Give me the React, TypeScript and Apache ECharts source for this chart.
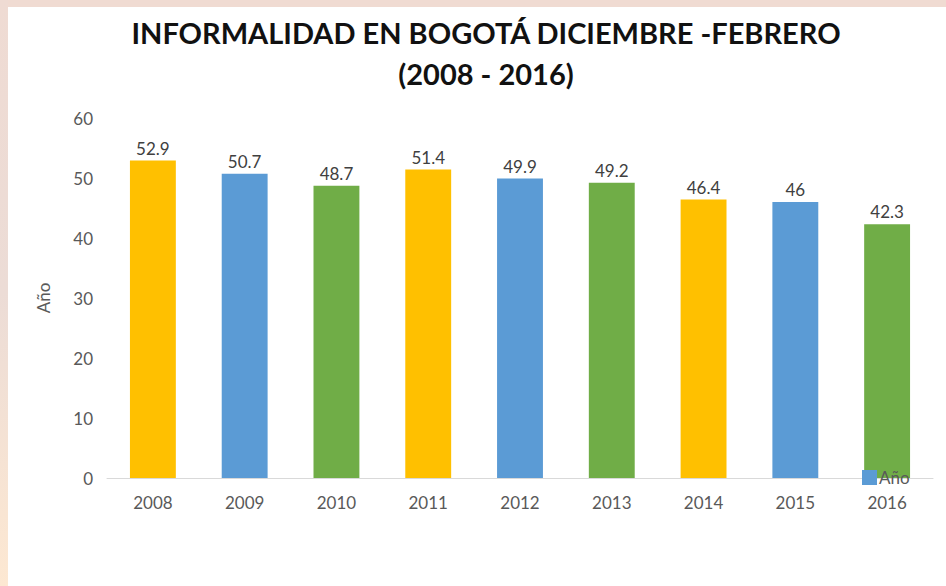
import React, { useEffect, useRef } from "react";
import * as echarts from "echarts";

const categories = ["2008", "2009", "2010", "2011", "2012", "2013", "2014", "2015", "2016"];
const values = [52.9, 50.7, 48.7, 51.4, 49.9, 49.2, 46.4, 46, 42.3];
const barColors = ["#FFC000", "#5B9BD5", "#70AD47", "#FFC000", "#5B9BD5", "#70AD47", "#FFC000", "#5B9BD5", "#70AD47"];
const titleLines = ["INFORMALIDAD EN BOGOTÁ DICIEMBRE -FEBRERO", "(2008 - 2016)"];
const seriesName = "Año";

export default function App() {
  const ref = useRef<HTMLDivElement>(null);
  useEffect(() => {
    document.body.style.margin = "0";
    const chart = echarts.init(ref.current!, null, { renderer: "svg" });
    chart.setOption({
      animation: false,
      backgroundColor: "#ffffff",
      textStyle: { fontFamily: "Lato" },
      graphic: [
        {
          type: "rect",
          shape: { x: 0, y: 0, width: 946, height: 7 },
          style: { fill: "#f0dbd2" },
          z: -1,
        },
        {
          type: "rect",
          shape: { x: 0, y: 0, width: 8, height: 586 },
          style: {
            fill: new echarts.graphic.LinearGradient(0, 0, 0, 1, [
              { offset: 0, color: "#efdbd3" },
              { offset: 0.5, color: "#ecdcd6" },
              { offset: 1, color: "#fde8d2" },
            ]),
          },
          z: -1,
        },
      ],
      title: {
        text: titleLines.join("\n"),
        left: 481,
        textAlign: "center",
        top: 7,
        textStyle: {
          fontFamily: "Lato",
          fontWeight: "bold",
          fontSize: 29,
          lineHeight: 41,
          color: "#111111",
        },
      },
      legend: {
        left: 857,
        top: 464,
        itemWidth: 15,
        itemHeight: 15,
        itemGap: 4,
        icon: "rect",
        data: [{ name: seriesName, itemStyle: { color: "#5B9BD5" } }],
        textStyle: { color: "#595959", fontSize: 17, fontFamily: "Lato", padding: [0, 0, 0, -3] },
      },
      grid: { left: 107, right: 13, top: 118, bottom: 108, containLabel: false },
      xAxis: {
        type: "category",
        data: categories,
        axisLine: { lineStyle: { color: "#d9d9d9", width: 1 } },
        axisTick: { show: false },
        axisLabel: { color: "#595959", fontSize: 17, margin: 16 },
      },
      yAxis: {
        type: "value",
        min: 0,
        max: 60,
        interval: 10,
        name: seriesName,
        nameLocation: "middle",
        nameGap: 55,
        nameTextStyle: { color: "#595959", fontSize: 17 },
        axisLine: { show: false },
        axisTick: { show: false },
        splitLine: { show: false },
        axisLabel: { color: "#595959", fontSize: 17, margin: 14 },
      },
      series: [
        {
          name: seriesName,
          type: "bar",
          barWidth: "50%",
          data: values.map((v, i) => ({ value: v, itemStyle: { color: barColors[i] } })),
          itemStyle: { color: "#5B9BD5" },
          label: {
            show: true,
            position: "top",
            distance: 4,
            color: "#404040",
            fontSize: 17,
          },
        },
      ],
    });
    return () => chart.dispose();
  }, []);
  return <div ref={ref} style={{ width: 946, height: 586 }} />;
}
